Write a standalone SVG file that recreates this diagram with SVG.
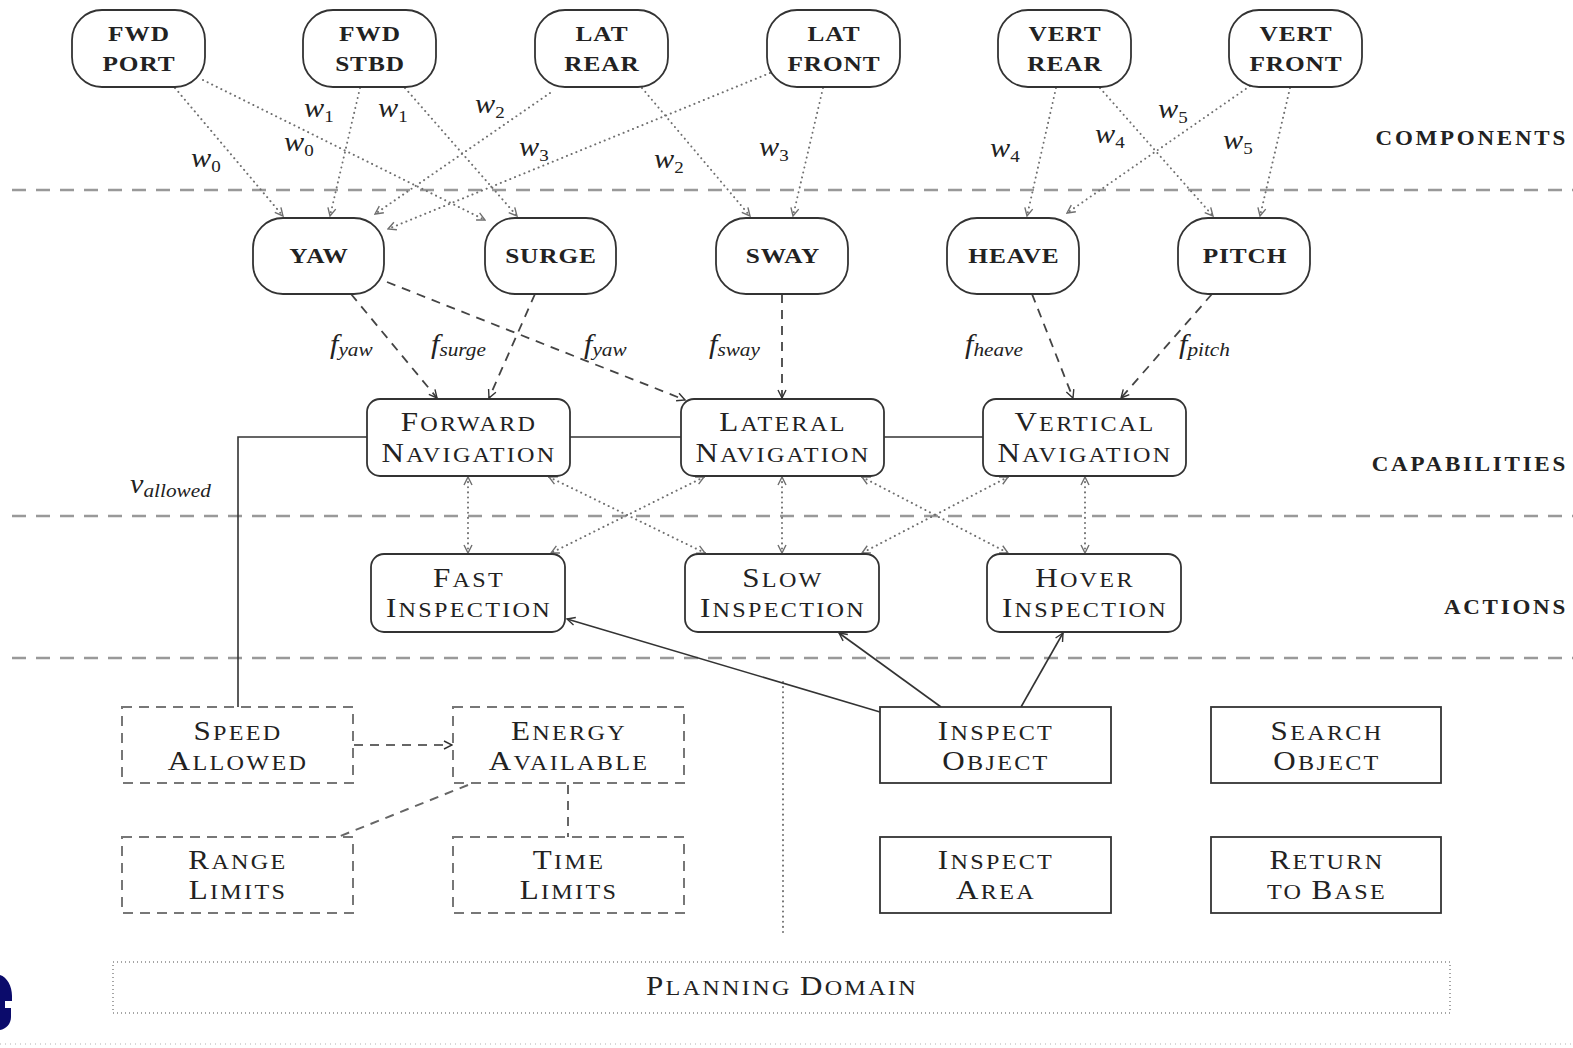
<svg xmlns="http://www.w3.org/2000/svg" width="1573" height="1048" viewBox="0 0 1573 1048">
  <style>
    .t { font-family: "Liberation Serif", "Times New Roman", serif; fill: #222; text-anchor: middle; transform-box: fill-box; transform-origin: center; transform: scaleX(1.15); }
    .b { font-weight: bold; font-size: 22px; letter-spacing: 0.8px; }
    .sc { font-size: 21px; letter-spacing: 2px; }
    .C { font-size: 27px; }
    .lay { font-family: "Liberation Serif", serif; fill: #222; font-weight: bold; font-size: 20px; letter-spacing: 2.4px; text-anchor: end; transform-box: fill-box; transform-origin: right; transform: scaleX(1.15); }
    .m { font-family: "Liberation Serif", serif; fill: #222; font-style: italic; font-size: 27px; transform-box: fill-box; transform-origin: left; transform: scaleX(1.12); }
    .sub { font-size: 17px; font-style: normal; }
    .fsub { font-size: 19px; }
    .node { fill: #fff; stroke: #333; stroke-width: 1.8; }
    .dnode { fill: #fff; stroke: #777; stroke-width: 2; stroke-dasharray: 10 7; }
    .sep { stroke: #999; stroke-width: 2.5; stroke-dasharray: 14 10; fill: none; }
    .dot { stroke: #6f6f6f; stroke-width: 2; stroke-dasharray: 0.1 5; stroke-linecap: round; fill: none; }
    .dash { stroke: #444; stroke-width: 1.8; stroke-dasharray: 9 7; fill: none; }
    .gdash { stroke: #666; stroke-width: 2; stroke-dasharray: 9 7; fill: none; }
    .solid { stroke: #333; stroke-width: 1.6; fill: none; }
  </style>
  <defs>
    <marker id="ag" viewBox="0 0 10 10" refX="9" refY="5" markerWidth="10" markerHeight="10" markerUnits="userSpaceOnUse" orient="auto-start-reverse">
      <path d="M1,1 L9,5 L1,9" fill="none" stroke="#6f6f6f" stroke-width="1.4"/>
    </marker>
    <marker id="ad" viewBox="0 0 10 10" refX="9" refY="5" markerWidth="10" markerHeight="10" markerUnits="userSpaceOnUse" orient="auto-start-reverse">
      <path d="M1,1 L9,5 L1,9" fill="none" stroke="#333" stroke-width="1.4"/>
    </marker>
  </defs>

  <rect width="1573" height="1048" fill="#fff"/>

  <!-- layer separators -->
  <g id="layers">
    <line class="sep" x1="12" y1="190" x2="1573" y2="190"/>
    <line class="sep" x1="12" y1="516" x2="1573" y2="516"/>
    <line class="sep" x1="12" y1="658" x2="1573" y2="658"/>
    <line class="dot" x1="783" y1="682" x2="783" y2="935"/>
    <line x1="0" y1="1044" x2="1573" y2="1044" stroke="#ccc" stroke-width="1.5" stroke-dasharray="1 4"/>
    <text class="lay" x="1568" y="145">COMPONENTS</text>
    <text class="lay" x="1568" y="471">CAPABILITIES</text>
    <text class="lay" x="1568" y="614">ACTIONS</text>
  </g>

  <!-- connectors -->
  <g id="connectors">
    <!-- components to motions -->
    <line class="dot" x1="175" y1="88" x2="283" y2="216" marker-end="url(#ag)"/>
    <line class="dot" x1="203" y1="80" x2="485" y2="220" marker-end="url(#ag)"/>
    <line class="dot" x1="360" y1="88" x2="330" y2="216" marker-end="url(#ag)"/>
    <line class="dot" x1="405" y1="88" x2="517" y2="216" marker-end="url(#ag)"/>
    <line class="dot" x1="550" y1="93" x2="375" y2="214" marker-end="url(#ag)"/>
    <line class="dot" x1="770" y1="73" x2="388" y2="229" marker-end="url(#ag)"/>
    <line class="dot" x1="642" y1="88" x2="750" y2="216" marker-end="url(#ag)"/>
    <line class="dot" x1="823" y1="88" x2="793" y2="216" marker-end="url(#ag)"/>
    <line class="dot" x1="1056" y1="88" x2="1027" y2="216" marker-end="url(#ag)"/>
    <line class="dot" x1="1100" y1="88" x2="1213" y2="216" marker-end="url(#ag)"/>
    <line class="dot" x1="1250" y1="86" x2="1067" y2="213" marker-end="url(#ag)"/>
    <line class="dot" x1="1290" y1="88" x2="1260" y2="216" marker-end="url(#ag)"/>

    <!-- motions to navigation -->
    <line class="dash" x1="351" y1="294" x2="437" y2="398" marker-end="url(#ad)"/>
    <line class="dash" x1="535" y1="294" x2="489" y2="398" marker-end="url(#ad)"/>
    <line class="dash" x1="387" y1="282" x2="685" y2="400" marker-end="url(#ad)"/>
    <line class="dash" x1="782" y1="294" x2="782" y2="398" marker-end="url(#ad)"/>
    <line class="dash" x1="1032" y1="294" x2="1073" y2="398" marker-end="url(#ad)"/>
    <line class="dash" x1="1212" y1="294" x2="1121" y2="398" marker-end="url(#ad)"/>

    <!-- navigation links -->
    <line class="solid" x1="570" y1="437" x2="681" y2="437"/>
    <line class="solid" x1="884" y1="437" x2="983" y2="437"/>
    <polyline class="solid" points="367,437 238,437 238,707"/>

    <!-- navigation to actions -->
    <line class="dot" x1="468" y1="477" x2="468" y2="553" marker-start="url(#ag)" marker-end="url(#ag)"/>
    <line class="dot" x1="549" y1="477" x2="705" y2="553" marker-start="url(#ag)" marker-end="url(#ag)"/>
    <line class="dot" x1="704" y1="477" x2="551" y2="553" marker-start="url(#ag)" marker-end="url(#ag)"/>
    <line class="dot" x1="782" y1="477" x2="782" y2="553" marker-start="url(#ag)" marker-end="url(#ag)"/>
    <line class="dot" x1="862" y1="477" x2="1008" y2="553" marker-start="url(#ag)" marker-end="url(#ag)"/>
    <line class="dot" x1="1008" y1="477" x2="862" y2="553" marker-start="url(#ag)" marker-end="url(#ag)"/>
    <line class="dot" x1="1085" y1="477" x2="1085" y2="553" marker-start="url(#ag)" marker-end="url(#ag)"/>

    <!-- tasks to actions -->
    <line class="solid" x1="880" y1="712" x2="567" y2="619" marker-end="url(#ad)"/>
    <line class="solid" x1="941" y1="707" x2="839" y2="633" marker-end="url(#ad)"/>
    <line class="solid" x1="1021" y1="707" x2="1063" y2="633" marker-end="url(#ad)"/>

    <!-- resource constraints -->
    <line class="gdash" x1="354" y1="745" x2="452" y2="745" marker-end="url(#ad)"/>
    <line class="gdash" x1="468" y1="785" x2="338" y2="837"/>
    <line class="gdash" x1="568" y1="785" x2="568" y2="837"/>

    <!-- edge labels -->
    <text class="m" x="191" y="167">w<tspan class="sub" dy="5">0</tspan></text>
    <text class="m" x="284" y="151">w<tspan class="sub" dy="5">0</tspan></text>
    <text class="m" x="304" y="117">w<tspan class="sub" dy="5">1</tspan></text>
    <text class="m" x="378" y="117">w<tspan class="sub" dy="5">1</tspan></text>
    <text class="m" x="475" y="113">w<tspan class="sub" dy="5">2</tspan></text>
    <text class="m" x="519" y="156">w<tspan class="sub" dy="5">3</tspan></text>
    <text class="m" x="654" y="168">w<tspan class="sub" dy="5">2</tspan></text>
    <text class="m" x="759" y="156">w<tspan class="sub" dy="5">3</tspan></text>
    <text class="m" x="990" y="157">w<tspan class="sub" dy="5">4</tspan></text>
    <text class="m" x="1095" y="143">w<tspan class="sub" dy="5">4</tspan></text>
    <text class="m" x="1158" y="118">w<tspan class="sub" dy="5">5</tspan></text>
    <text class="m" x="1223" y="149">w<tspan class="sub" dy="5">5</tspan></text>

    <text class="m" x="330" y="353">f<tspan class="fsub" dy="3">yaw</tspan></text>
    <text class="m" x="431" y="353">f<tspan class="fsub" dy="3">surge</tspan></text>
    <text class="m" x="584" y="353">f<tspan class="fsub" dy="3">yaw</tspan></text>
    <text class="m" x="709" y="353">f<tspan class="fsub" dy="3">sway</tspan></text>
    <text class="m" x="965" y="353">f<tspan class="fsub" dy="3">heave</tspan></text>
    <text class="m" x="1179" y="353">f<tspan class="fsub" dy="3">pitch</tspan></text>

    <text class="m" x="130" y="493">v<tspan class="fsub" dy="4">allowed</tspan></text>
  </g>

  <!-- thruster components -->
  <g id="fwd-port"><rect class="node" x="72" y="10" width="133" height="77" rx="30"/><text class="t b" x="139" y="41">FWD</text><text class="t b" x="139" y="71">PORT</text></g>
  <g id="fwd-stbd"><rect class="node" x="303" y="10" width="133" height="77" rx="30"/><text class="t b" x="370" y="41">FWD</text><text class="t b" x="370" y="71">STBD</text></g>
  <g id="lat-rear"><rect class="node" x="535" y="10" width="133" height="77" rx="30"/><text class="t b" x="602" y="41">LAT</text><text class="t b" x="602" y="71">REAR</text></g>
  <g id="lat-front"><rect class="node" x="767" y="10" width="133" height="77" rx="30"/><text class="t b" x="834" y="41">LAT</text><text class="t b" x="834" y="71">FRONT</text></g>
  <g id="vert-rear"><rect class="node" x="998" y="10" width="133" height="77" rx="30"/><text class="t b" x="1065" y="41">VERT</text><text class="t b" x="1065" y="71">REAR</text></g>
  <g id="vert-front"><rect class="node" x="1229" y="10" width="133" height="77" rx="30"/><text class="t b" x="1296" y="41">VERT</text><text class="t b" x="1296" y="71">FRONT</text></g>

  <!-- motion capabilities -->
  <g id="yaw"><rect class="node" x="253" y="218" width="131" height="76" rx="30"/><text class="t b" x="319" y="263">YAW</text></g>
  <g id="surge"><rect class="node" x="485" y="218" width="131" height="76" rx="30"/><text class="t b" x="551" y="263">SURGE</text></g>
  <g id="sway"><rect class="node" x="716" y="218" width="132" height="76" rx="30"/><text class="t b" x="783" y="263">SWAY</text></g>
  <g id="heave"><rect class="node" x="947" y="218" width="132" height="76" rx="30"/><text class="t b" x="1014" y="263">HEAVE</text></g>
  <g id="pitch"><rect class="node" x="1178" y="218" width="132" height="76" rx="30"/><text class="t b" x="1245" y="263">PITCH</text></g>

  <!-- navigation capabilities -->
  <g id="forward-navigation"><rect class="node" x="367" y="399" width="203" height="77" rx="13"/>
    <text class="t sc" x="469" y="431"><tspan class="C">F</tspan>ORWARD</text>
    <text class="t sc" x="469" y="462"><tspan class="C">N</tspan>AVIGATION</text></g>
  <g id="lateral-navigation"><rect class="node" x="681" y="399" width="203" height="77" rx="13"/>
    <text class="t sc" x="783" y="431"><tspan class="C">L</tspan>ATERAL</text>
    <text class="t sc" x="783" y="462"><tspan class="C">N</tspan>AVIGATION</text></g>
  <g id="vertical-navigation"><rect class="node" x="983" y="399" width="203" height="77" rx="13"/>
    <text class="t sc" x="1085" y="431"><tspan class="C">V</tspan>ERTICAL</text>
    <text class="t sc" x="1085" y="462"><tspan class="C">N</tspan>AVIGATION</text></g>

  <!-- actions -->
  <g id="fast-inspection"><rect class="node" x="371" y="554" width="194" height="78" rx="13"/>
    <text class="t sc" x="469" y="587"><tspan class="C">F</tspan>AST</text>
    <text class="t sc" x="469" y="617"><tspan class="C">I</tspan>NSPECTION</text></g>
  <g id="slow-inspection"><rect class="node" x="685" y="554" width="194" height="78" rx="13"/>
    <text class="t sc" x="783" y="587"><tspan class="C">S</tspan>LOW</text>
    <text class="t sc" x="783" y="617"><tspan class="C">I</tspan>NSPECTION</text></g>
  <g id="hover-inspection"><rect class="node" x="987" y="554" width="194" height="78" rx="13"/>
    <text class="t sc" x="1085" y="587"><tspan class="C">H</tspan>OVER</text>
    <text class="t sc" x="1085" y="617"><tspan class="C">I</tspan>NSPECTION</text></g>

  <!-- resources -->
  <g id="speed-allowed"><rect class="dnode" x="122" y="707" width="231" height="76"/>
    <text class="t sc" x="238" y="740"><tspan class="C">S</tspan>PEED</text>
    <text class="t sc" x="238" y="770"><tspan class="C">A</tspan>LLOWED</text></g>
  <g id="energy-available"><rect class="dnode" x="453" y="707" width="231" height="76"/>
    <text class="t sc" x="569" y="740"><tspan class="C">E</tspan>NERGY</text>
    <text class="t sc" x="569" y="770"><tspan class="C">A</tspan>VAILABLE</text></g>
  <g id="range-limits"><rect class="dnode" x="122" y="837" width="231" height="76"/>
    <text class="t sc" x="238" y="869"><tspan class="C">R</tspan>ANGE</text>
    <text class="t sc" x="238" y="899"><tspan class="C">L</tspan>IMITS</text></g>
  <g id="time-limits"><rect class="dnode" x="453" y="837" width="231" height="76"/>
    <text class="t sc" x="569" y="869"><tspan class="C">T</tspan>IME</text>
    <text class="t sc" x="569" y="899"><tspan class="C">L</tspan>IMITS</text></g>

  <!-- tasks -->
  <g id="inspect-object"><rect class="node" x="880" y="707" width="231" height="76"/>
    <text class="t sc" x="996" y="740"><tspan class="C">I</tspan>NSPECT</text>
    <text class="t sc" x="996" y="770"><tspan class="C">O</tspan>BJECT</text></g>
  <g id="search-object"><rect class="node" x="1211" y="707" width="230" height="76"/>
    <text class="t sc" x="1327" y="740"><tspan class="C">S</tspan>EARCH</text>
    <text class="t sc" x="1327" y="770"><tspan class="C">O</tspan>BJECT</text></g>
  <g id="inspect-area"><rect class="node" x="880" y="837" width="231" height="76"/>
    <text class="t sc" x="996" y="869"><tspan class="C">I</tspan>NSPECT</text>
    <text class="t sc" x="996" y="899"><tspan class="C">A</tspan>REA</text></g>
  <g id="return-to-base"><rect class="node" x="1211" y="837" width="230" height="76"/>
    <text class="t sc" x="1327" y="869"><tspan class="C">R</tspan>ETURN</text>
    <text class="t sc" x="1327" y="899">TO <tspan class="C">B</tspan>ASE</text></g>

  <!-- planning domain -->
  <g id="planning-domain"><rect x="113" y="962" width="1337" height="51" fill="none" stroke="#888" stroke-width="1.5" stroke-dasharray="1 3"/>
    <text class="t sc" x="782" y="995"><tspan class="C">P</tspan>LANNING <tspan class="C">D</tspan>OMAIN</text></g>

  <!-- logo fragment at the left edge -->
  <path d="M0,975 C7,977 12,986 12,996 L12,1001 L5,1001 L5,1008 L11,1008 L11,1017 C11,1024 6,1029 0,1030 Z" fill="#0b0b6b"/>
</svg>
